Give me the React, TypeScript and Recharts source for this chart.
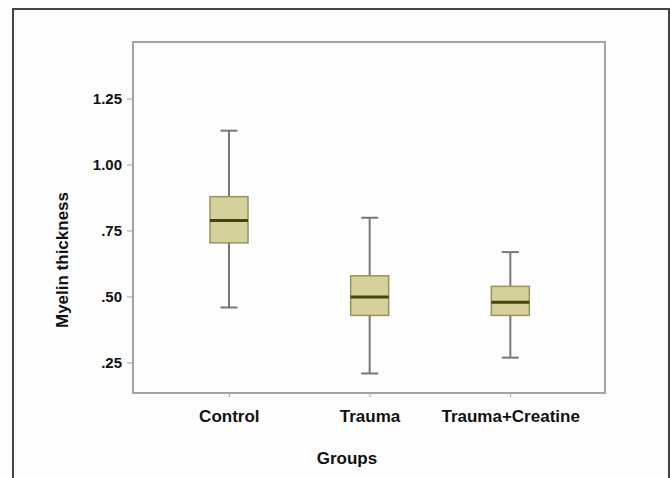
import { Bar, ComposedChart, XAxis, YAxis, Label, ReferenceArea } from 'recharts'

const groups = ['Control', 'Trauma', 'Trauma+Creatine']
const mins = [0.46, 0.21, 0.27]
const q1s = [0.705, 0.43, 0.43]
const medians = [0.79, 0.5, 0.48]
const q3s = [0.88, 0.58, 0.54]
const maxs = [1.13, 0.8, 0.67]
const yTicks = [0.25, 0.5, 0.75, 1.0, 1.25]
const yTickLabels = ['.25', '.50', '.75', '1.00', '1.25']
const yDomain = [0.136, 1.466]

const data = groups.map((g, i) => ({
  group: g,
  min: mins[i],
  q1: q1s[i],
  median: medians[i],
  q3: q3s[i],
  max: maxs[i],
}))

const FONT = '"Liberation Sans", Arial, Helvetica, sans-serif'
const AXIS = '#a3a3a3'

function BoxShape(props: any) {
  const { x, y, width, height, payload } = props
  const top = Math.min(y, y + height)
  const bot = Math.max(y, y + height)
  const span = payload.max - payload.min
  const py = (v: number) => top + ((payload.max - v) / span) * (bot - top)
  const cx = x + width / 2
  const cap = 8.5
  const yQ3 = py(payload.q3)
  const yQ1 = py(payload.q1)
  const yMed = py(payload.median)
  return (
    <g>
      <line x1={cx} x2={cx} y1={top} y2={yQ3} stroke="#777" strokeWidth={2} />
      <line x1={cx} x2={cx} y1={yQ1} y2={bot} stroke="#777" strokeWidth={2} />
      <line x1={cx - cap} x2={cx + cap} y1={top} y2={top} stroke="#777" strokeWidth={2} />
      <line x1={cx - cap} x2={cx + cap} y1={bot} y2={bot} stroke="#777" strokeWidth={2} />
      <rect
        x={x}
        y={yQ3}
        width={width}
        height={yQ1 - yQ3}
        fill="#d6d09b"
        stroke="#97925f"
        strokeWidth={1.5}
      />
      <line x1={x} x2={x + width} y1={yMed} y2={yMed} stroke="#4a4112" strokeWidth={3} />
    </g>
  )
}

export default function App() {
  return (
    <div style={{ position: 'relative', width: 671, height: 478, background: '#fdfdfd', overflow: 'hidden' }}>
      <style>{'body{margin:0;overflow:hidden}'}</style>
      <div
        style={{
          position: 'absolute',
          left: 12,
          top: 8,
          width: 658,
          height: 500,
          boxSizing: 'border-box',
          border: '2px solid #444',
          borderBottom: 'none',
        }}
      />
      <ComposedChart
        width={671}
        height={478}
        data={data}
        margin={{ top: 42, right: 66, bottom: 0, left: 0 }}
        style={{ position: 'absolute', left: 0, top: 0, fontFamily: FONT }}
      >
        <XAxis
          dataKey="group"
          height={85}
          padding={{ left: 26, right: 24 }}
          axisLine={{ stroke: AXIS, strokeWidth: 2 }}
          tickLine={{ stroke: AXIS }}
          tickSize={4}
          tickMargin={13}
          tick={{ fill: '#111', fontSize: 17, fontWeight: 700, fontFamily: FONT }}
        >
          <Label
            value="Groups"
            position="insideBottom"
            offset={14}
            dx={-22}
            style={{ fill: '#111', fontSize: 17, fontWeight: 700, fontFamily: FONT }}
          />
        </XAxis>
        <XAxis xAxisId="frame" dataKey="group" hide />
        <YAxis
          width={133}
          type="number"
          domain={yDomain}
          ticks={yTicks}
          allowDataOverflow
          axisLine={{ stroke: AXIS, strokeWidth: 2 }}
          tickLine={{ stroke: AXIS }}
          tickSize={6}
          tickMargin={5}
          tickFormatter={(v: number) => yTickLabels[yTicks.indexOf(v)] ?? String(v)}
          tick={{ fill: '#111', fontSize: 15, fontWeight: 700, fontFamily: FONT }}
        >
          <Label
            content={() => (
              <text
                x={62}
                y={260}
                transform="rotate(-90, 62, 260)"
                textAnchor="middle"
                dominantBaseline="central"
                style={{ fill: '#111', fontSize: 17, fontWeight: 700, fontFamily: FONT }}
              >
                Myelin thickness
              </text>
            )}
          />
        </YAxis>
        <ReferenceArea
          xAxisId="frame"
          y1={yDomain[0]}
          y2={yDomain[1]}
          ifOverflow="visible"
          fill="none"
          stroke={AXIS}
          strokeWidth={2}
        />
        <Bar
          dataKey={(d: any) => [d.min, d.max]}
          barSize={38}
          shape={<BoxShape />}
          isAnimationActive={false}
        />
      </ComposedChart>
    </div>
  )
}
